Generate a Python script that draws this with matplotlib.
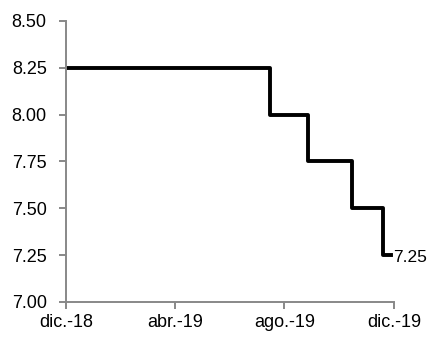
import matplotlib
matplotlib.use("Agg")
import matplotlib.pyplot as plt
import numpy as np

plt.rcParams['font.family'] = ['Liberation Sans', 'DejaVu Sans']

# policy rate step changes (date of change, new level)
change_dates = ["2018-12-01", "2019-07-16", "2019-08-27", "2019-10-15", "2019-11-19"]
rates = [8.25, 8.00, 7.75, 7.50, 7.25]
end_date = "2019-11-28"

tick_dates = ["2018-12-01", "2019-04-01", "2019-08-01", "2019-12-01"]
tick_labels = ["dic.-18", "abr.-19", "ago.-19", "dic.-19"]

x = np.array(change_dates + [end_date], dtype="datetime64[D]")
y = rates + [rates[-1]]

fig = plt.figure(figsize=(4.32, 3.37), dpi=100)
ax = fig.add_axes([0.153, 0.104, 0.759, 0.834])

ax.step(x, y, where="post", color="black", linewidth=2.8)
ax.text(x[-1] + np.timedelta64(2, "D"), y[-1] - 0.015, "7.25", fontsize=12.5,
        va="center", ha="left")

ax.set_ylim(7.0, 8.5)
ax.set_yticks([7.0, 7.25, 7.5, 7.75, 8.0, 8.25, 8.5])
ax.set_yticklabels(["%.2f" % v for v in ax.get_yticks()])
ax.set_xlim(np.datetime64(tick_dates[0]), np.datetime64(tick_dates[-1]))
ax.set_xticks(np.array(tick_dates, dtype="datetime64[D]"))
ax.set_xticklabels(tick_labels)

for s in ["top", "right"]:
    ax.spines[s].set_visible(False)
for s in ["left", "bottom"]:
    ax.spines[s].set_color("#888888")
    ax.spines[s].set_linewidth(1.4)
ax.tick_params(axis="both", colors="#888888", labelcolor="black",
               labelsize=13, length=5, width=1.4)
ax.tick_params(axis="y", pad=9)
ax.tick_params(axis="x", pad=4)

fig.savefig("out.png", dpi=100)
